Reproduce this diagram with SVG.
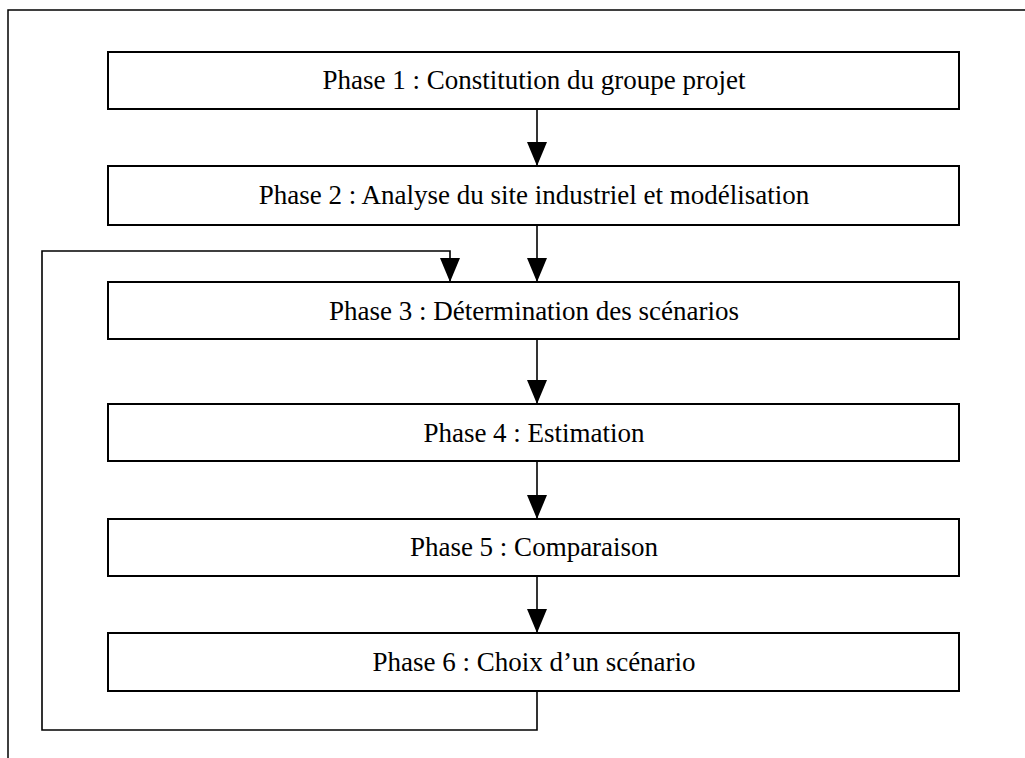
<svg xmlns="http://www.w3.org/2000/svg" width="1025" height="758" viewBox="0 0 1025 758">
<style>
.box{fill:#fff;stroke:#000;stroke-width:2}
.lbl{font-family:"Liberation Serif","Times New Roman",serif;font-size:27px;fill:#000;text-anchor:middle}
.ln{fill:none;stroke:#000;stroke-width:1.6}
.frame{fill:none;stroke:#000;stroke-width:1.5}
</style>
<defs>
<marker id="ah" markerUnits="userSpaceOnUse" markerWidth="24" markerHeight="20" refX="24" refY="10" orient="auto" viewBox="0 0 24 20">
<path d="M0,0 L24,10 L0,20 Z" fill="#000"/>
</marker>
</defs>
<rect width="1025" height="758" fill="#fff"/>
<path class="frame" d="M8,758 L8,10 L1025,10"/>
<g id="connectors">
<line class="ln" x1="537" y1="109" x2="537" y2="166" marker-end="url(#ah)"/>
<line class="ln" x1="537" y1="225" x2="537" y2="282" marker-end="url(#ah)"/>
<line class="ln" x1="537" y1="339" x2="537" y2="404" marker-end="url(#ah)"/>
<line class="ln" x1="537" y1="461" x2="537" y2="519" marker-end="url(#ah)"/>
<line class="ln" x1="537" y1="576" x2="537" y2="633" marker-end="url(#ah)"/>
<path class="ln" d="M537,691 L537,730 L42,730 L42,251 L450,251 L450,282" marker-end="url(#ah)"/>
</g>
<g id="phase1"><rect class="box" x="108" y="52" width="851" height="57"/><text class="lbl" x="534" y="89">Phase 1 : Constitution du groupe projet</text></g>
<g id="phase2"><rect class="box" x="108" y="166" width="851" height="59"/><text class="lbl" x="534" y="204">Phase 2 : Analyse du site industriel et modélisation</text></g>
<g id="phase3"><rect class="box" x="108" y="282" width="851" height="57"/><text class="lbl" x="534" y="320">Phase 3 : Détermination des scénarios</text></g>
<g id="phase4"><rect class="box" x="108" y="404" width="851" height="57"/><text class="lbl" x="534" y="442">Phase 4 : Estimation</text></g>
<g id="phase5"><rect class="box" x="108" y="519" width="851" height="57"/><text class="lbl" x="534" y="556">Phase 5 : Comparaison</text></g>
<g id="phase6"><rect class="box" x="108" y="633" width="851" height="58"/><text class="lbl" x="534" y="671">Phase 6 : Choix d’un scénario</text></g>
</svg>
